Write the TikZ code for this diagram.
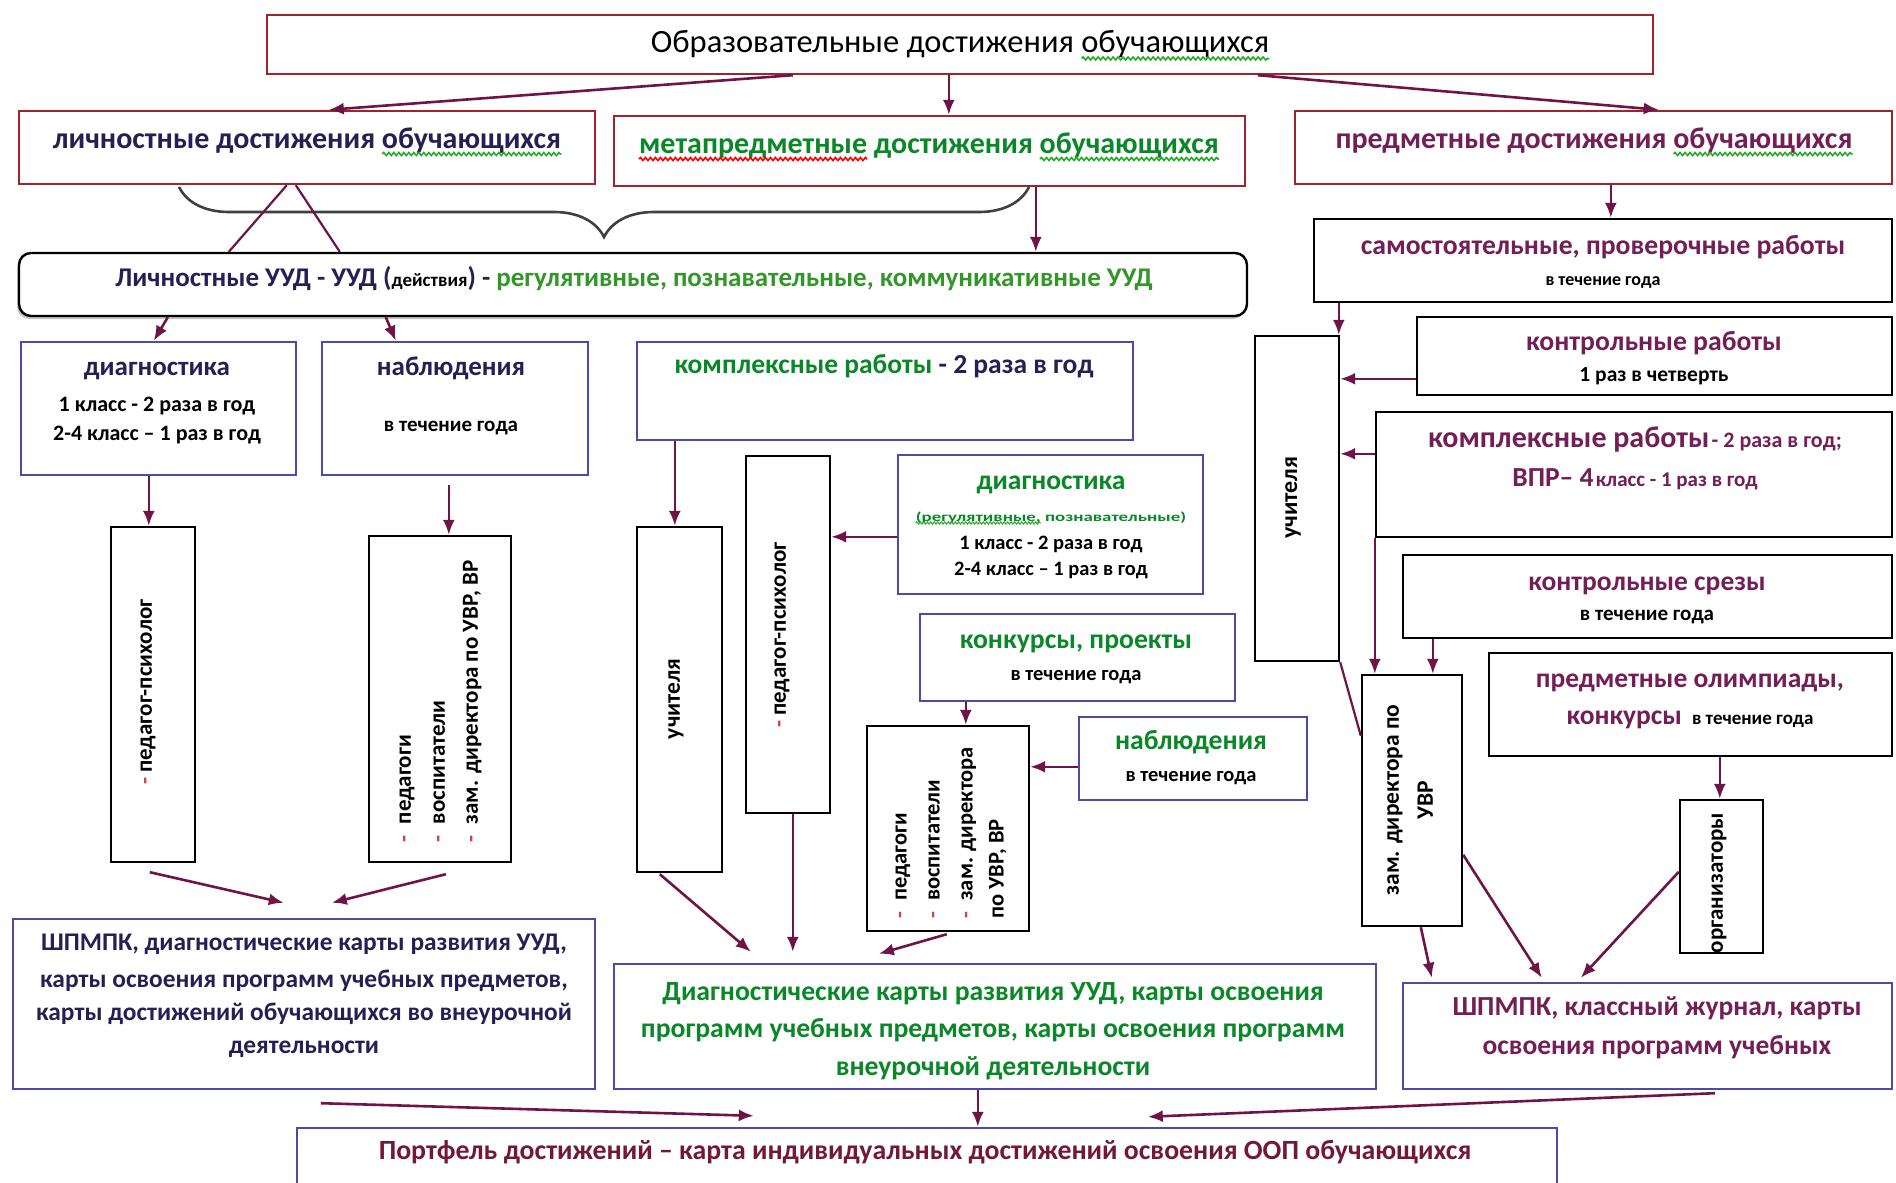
\documentclass[tikz,border=0pt]{standalone}
\usepackage{fontspec}
\usepackage{graphicx}
\setmainfont{Carlito}
\usetikzlibrary{fit,arrows.meta,decorations.pathreplacing,decorations.pathmorphing,shadows}
\definecolor{bred}{RGB}{160,35,45}
\definecolor{bblue}{RGB}{75,75,170}
\definecolor{arrc}{RGB}{110,20,70}
\definecolor{tnavy}{RGB}{40,30,85}
\definecolor{tgreen}{RGB}{10,135,40}
\definecolor{tlgreen}{RGB}{50,150,40}
\definecolor{tplum}{RGB}{115,30,85}
\definecolor{tdred}{RGB}{115,25,55}
\definecolor{dash}{RGB}{200,70,80}
\definecolor{sqgc}{RGB}{40,170,40}
\newcommand\fs[1]{\fontsize{#1}{#1}\selectfont}
\newlength\wTtl
\newlength\wObu
\newlength\wMeta
\newlength\wReg
\begin{document}
\settowidth\wTtl{\fs{32.5}обучающихся}%
\settowidth\wObu{\fs{30}\bfseries обучающихся}%
\settowidth\wMeta{\fs{30}\bfseries метапредметные}%
\settowidth\wReg{\fs{13}\bfseries\scalebox{1.45}[1]{(регулятивные,}}%
\begin{tikzpicture}[x=1pt,y=-1pt,
  bx/.style={draw, line width=2.4pt, inner sep=0pt},
  redbx/.style={bx, draw=bred},
  bluebx/.style={bx, draw=bblue},
  blkbx/.style={bx, draw=black},
  tx/.style={inner sep=0pt, anchor=base},
  arr/.style={draw=arrc, line width=2.6pt, -{Latex[length=15pt,width=12pt]}},
  ln/.style={draw=arrc, line width=2.2pt},
  sqg/.style={draw=sqgc, line width=1.6pt, decorate, decoration={snake, amplitude=1.5pt, segment length=5pt}},
  sqr/.style={draw=red, line width=1.6pt, decorate, decoration={snake, amplitude=1.5pt, segment length=5pt}}]
\fill[white] (0,0) rectangle (1896,1183);
\useasboundingbox (0,0) rectangle (1896,1183);
\begin{scope}
\clip (0,0) rectangle (1896,1183);
% boxes
\node[redbx, fit={(267,15) (1653,74)}] (ttlbox) {};
\node[redbx, fit={(19,111) (595,184)}] (lich) {};
\node[redbx, fit={(614,116) (1245,186)}] (meta) {};
\node[redbx, fit={(1295,111) (1892,184)}] (pred) {};
\node[blkbx, fill=white, rounded corners=12pt, drop shadow={shadow xshift=-2pt, shadow yshift=-3pt, fill=black!45}, fit={(19,253) (1247,316)}] (uud) {};
\node[bluebx, fit={(21,342) (296,475)}] (d1) {};
\node[bluebx, fit={(322,342) (588,475)}] (n1) {};
\node[blkbx, fit={(111,527) (195,862)}] (pp1) {};
\node[blkbx, fit={(369,536) (511,862)}] (ped1) {};
\node[bluebx, fit={(13,919) (595,1089)}] (sh1) {};
\node[bluebx, fit={(637,342) (1133,440)}] (kompl) {};
\node[blkbx, fit={(637,527) (722,872)}] (u1) {};
\node[blkbx, fit={(746,456) (830,813)}] (pp2) {};
\node[bluebx, fit={(898,455) (1203,594)}] (d2) {};
\node[bluebx, fit={(920,614) (1235,701)}] (konk) {};
\node[blkbx, fit={(867,726) (1029,931)}] (ped2) {};
\node[bluebx, fit={(1079,717) (1307,800)}] (n2) {};
\node[bluebx, fit={(614,964) (1376,1089)}] (dk) {};
\node[blkbx, fit={(1314,219) (1892,302)}] (sam) {};
\node[blkbx, fit={(1255,336) (1339,661)}] (u2) {};
\node[blkbx, fit={(1417,317) (1892,395)}] (kr) {};
\node[blkbx, fit={(1376,412) (1892,537)}] (k2) {};
\node[blkbx, fit={(1403,555) (1892,638)}] (sr) {};
\node[blkbx, fit={(1489,653) (1892,756)}] (ol) {};
\node[blkbx, fit={(1362,675) (1462,926)}] (zd) {};
\node[blkbx, fit={(1680,800) (1763,953)}] (org) {};
\node[bluebx, fit={(1403,983) (1892,1089)}] (sh2) {};
\node[bluebx, fit={(297,1128) (1557,1210)}] (port) {};
% brace
\draw[line width=2.6pt, draw=black!75, decorate, decoration={brace, amplitude=50pt}] (1029,187) -- (179,187);
% texts
\node[tx, font=\fs{32.5}, text=black] (ttl) at (960,52.5) {Образовательные достижения обучающихся};
\node[tx, font=\fs{30}\bfseries, text=tnavy] (tlich) at (307,148) {личностные достижения обучающихся};
\node[tx, font=\fs{30}\bfseries, text=tgreen] (tmeta) at (929,153) {метапредметные достижения обучающихся};
\node[tx, font=\fs{30}\bfseries, text=tplum] (tpred) at (1594,148) {предметные достижения обучающихся};
\node[tx, font=\fs{27}\bfseries] (tuud) at (634,286) {\textcolor{tnavy}{Личностные УУД - УУД (}{\fs{19}действия}\textcolor{tnavy}{) -} \textcolor{tlgreen}{регулятивные, познавательные, коммуникативные УУД}};
\node[tx, font=\fs{27}\bfseries, text=tnavy] (d1a) at (157,375) {диагностика};
\node[tx, font=\fs{22}\bfseries] (d1b) at (157,411.7) {1 класс - 2 раза в год};
\node[tx, font=\fs{22}\bfseries] (d1c) at (157,440.7) {2-4 класс – 1 раз в год};
\node[tx, font=\fs{27}\bfseries, text=tnavy] (n1a) at (451,375) {наблюдения};
\node[tx, font=\fs{21}\bfseries] (n1b) at (451,431.5) {в течение года};
\node[tx, font=\fs{27.5}\bfseries] (tkompl) at (884,373) {\textcolor{tgreen}{комплексные работы} \textcolor{tnavy}{- 2 раза в год}};
\node[tx, font=\fs{27.5}\bfseries, text=tgreen] (d2a) at (1051,489) {диагностика};
\node[tx, font=\fs{13}\bfseries, text=tgreen] (d2b) at (1051,521) {\scalebox{1.45}[1]{(регулятивные, познавательные)}};
\node[tx, font=\fs{20.5}\bfseries] (d2c) at (1051,549.3) {1 класс - 2 раза в год};
\node[tx, font=\fs{20.5}\bfseries] (d2d) at (1051,575.3) {2-4 класс – 1 раз в год};
\node[tx, font=\fs{27.7}\bfseries, text=tgreen] (konka) at (1076,648.2) {конкурсы, проекты};
\node[tx, font=\fs{20.5}\bfseries] (konkb) at (1076,680.3) {в течение года};
\node[tx, font=\fs{27.7}\bfseries, text=tgreen] (n2a) at (1191,749.2) {наблюдения};
\node[tx, font=\fs{20.5}\bfseries] (n2b) at (1191,781.3) {в течение года};
\node[tx, font=\fs{25.4}\bfseries, text=tnavy] (sh1a) at (304,950.6) {ШПМПК, диагностические карты развития УУД,};
\node[tx, font=\fs{25.4}\bfseries, text=tnavy] (sh1b) at (304,987.6) {карты освоения программ учебных предметов,};
\node[tx, font=\fs{25.4}\bfseries, text=tnavy] (sh1c) at (304,1020.6) {карты достижений обучающихся во внеурочной};
\node[tx, font=\fs{25.4}\bfseries, text=tnavy] (sh1d) at (304,1053.6) {деятельности};
\node[tx, font=\fs{27.7}\bfseries, text=tgreen] (dka) at (993,1000.2) {Диагностические карты развития УУД, карты освоения};
\node[tx, font=\fs{27.7}\bfseries, text=tgreen] (dkb) at (993,1037.2) {программ учебных предметов, карты освоения программ};
\node[tx, font=\fs{27.7}\bfseries, text=tgreen] (dkc) at (993,1075.2) {внеурочной деятельности};
\node[tx, font=\fs{27.7}\bfseries, text=tplum] (sama) at (1603,254.2) {самостоятельные, проверочные работы};
\node[tx, font=\fs{18}\bfseries] (samb) at (1603,285.7) {в течение года};
\node[tx, font=\fs{27.7}\bfseries, text=tplum] (kra) at (1654,350.2) {контрольные работы};
\node[tx, font=\fs{21.5}\bfseries] (krb) at (1654,381.6) {1 раз в четверть};
\node[tx, font=\bfseries, text=tplum] (k2a) at (1635,447.5) {{\fs{30}комплексные работы} {\fs{22}- 2 раза в год;}};
\node[tx, font=\bfseries, text=tplum] (k2b) at (1635,486) {{\fs{27.5}ВПР– 4} {\fs{21}класс - 1 раз в год}};
\node[tx, font=\fs{27.5}\bfseries, text=tplum] (sra) at (1647,590.2) {контрольные срезы};
\node[tx, font=\fs{21}\bfseries] (srb) at (1647,620.5) {в течение года};
\node[tx, font=\fs{27.5}\bfseries, text=tplum] (ola) at (1690,687.2) {предметные олимпиады,};
\node[tx, font=\bfseries, text=tplum] (olb) at (1690,724.5) {{\fs{27.5}конкурсы}\quad{\fs{19}\color{black}в течение года}};
\node[tx, font=\fs{27.5}\bfseries, text=tplum] (sh2a) at (1657,1015.2) {ШПМПК, классный журнал, карты};
\node[tx, font=\fs{27.5}\bfseries, text=tplum] (sh2b) at (1657,1054.2) {освоения программ учебных};
\node[tx, font=\fs{27.8}\bfseries, text=tdred] (tport) at (925,1159.2) {Портфель достижений – карта индивидуальных достижений освоения ООП обучающихся};
% rotated texts
\node[tx, rotate=90, font=\fs{23}\bfseries] (tpp1) at (151.75,692) {\textcolor{dash}{-} педагог-психолог};
\node[tx, rotate=90, anchor=base west, font=\fs{23}\bfseries] (tped1a) at (410.75,843) {\textcolor{dash}{-}\enspace педагоги};
\node[tx, rotate=90, anchor=base west, font=\fs{23}\bfseries] (tped1b) at (444.75,843) {\textcolor{dash}{-}\enspace воспитатели};
\node[tx, rotate=90, anchor=base west, font=\fs{23}\bfseries] (tped1c) at (477.75,843) {\textcolor{dash}{-}\enspace зам. директора по УВР, ВР};
\node[tx, rotate=90, font=\fs{23.5}\bfseries] (tu1) at (679.9,699) {учителя};
\node[tx, rotate=90, font=\fs{23}\bfseries] (tpp2) at (785.75,635) {\textcolor{dash}{-} педагог-психолог};
\node[tx, rotate=90, anchor=base west, font=\fs{22.5}\bfseries] (tped2a) at (906.6,919) {\textcolor{dash}{-}\enspace педагоги};
\node[tx, rotate=90, anchor=base west, font=\fs{22.5}\bfseries] (tped2b) at (939.6,919) {\textcolor{dash}{-}\enspace воспитатели};
\node[tx, rotate=90, anchor=base west, font=\fs{22.5}\bfseries] (tped2c) at (972.6,919) {\textcolor{dash}{-}\enspace зам. директора};
\node[tx, rotate=90, anchor=base west, font=\fs{22.5}\bfseries] (tped2d) at (1003.6,919) {по УВР, ВР};
\node[tx, rotate=90, font=\fs{24}\bfseries] (tu2) at (1297,498) {учителя};
\node[tx, rotate=90, font=\fs{23.5}\bfseries] (tzd1) at (1398.9,800) {зам. директора по};
\node[tx, rotate=90, font=\fs{23.5}\bfseries] (tzd2) at (1432.9,800) {УВР};
\node[tx, rotate=90, font=\fs{23}\bfseries] (torg) at (1722.75,883) {организаторы};
% spelling squiggles
\draw[sqg] ([xshift=-\wTtl,yshift=-6pt]ttl.base east) -- ([yshift=-6pt]ttl.base east);
\draw[sqg] ([xshift=-\wObu,yshift=-6pt]tlich.base east) -- ([yshift=-6pt]tlich.base east);
\draw[sqg] ([xshift=-\wObu,yshift=-6pt]tmeta.base east) -- ([yshift=-6pt]tmeta.base east);
\draw[sqg] ([xshift=-\wObu,yshift=-6pt]tpred.base east) -- ([yshift=-6pt]tpred.base east);
\draw[sqr] ([yshift=-6pt]tmeta.base west) -- ([xshift=\wMeta,yshift=-6pt]tmeta.base west);
\draw[sqg, line width=1.1pt, decoration={snake, amplitude=1pt, segment length=3.5pt}] ([yshift=-2pt]d2b.base west) -- ([xshift=\wReg,yshift=-2pt]d2b.base west);
% connectors
\draw[arr] ([xshift=527pt]ttlbox.south west) -- ([xshift=311pt]lich.north west);
\draw[arr] ([xshift=683pt]ttlbox.south west) -- ([xshift=336pt]meta.north west);
\draw[arr] ([xshift=992pt]ttlbox.south west) -- ([xshift=365pt]pred.north west);
\draw[arr] ([xshift=423pt]meta.south west) -- ([xshift=1018pt]uud.north west);
\draw[ln] ([xshift=269pt]lich.south west) -- ([xshift=211pt]uud.north west);
\draw[ln] ([xshift=278pt]lich.south west) -- ([xshift=322pt]uud.north west);
\draw[arr] ([xshift=150pt]uud.south west) -- ([xshift=134pt]d1.north west);
\draw[arr] ([xshift=368pt]uud.south west) -- ([xshift=75pt]n1.north west);
\draw[arr] ([xshift=129pt]d1.south west) -- ([xshift=39pt]pp1.north west);
\draw[arr] ([xshift=128pt,yshift=-9pt]n1.south west) -- ([xshift=81pt]ped1.north west);
\draw[arr] ([xshift=40pt,yshift=-9pt]pp1.south west) -- ([xshift=272pt,yshift=15pt]sh1.north west);
\draw[arr] ([xshift=78pt,yshift=-11pt]ped1.south west) -- ([xshift=320pt,yshift=15pt]sh1.north west);
\draw[arr] ([xshift=39pt]kompl.south west) -- ([xshift=39pt]u1.north west);
\draw[arr] ([yshift=-83pt]d2.north west) -- ([yshift=-82pt]pp2.north east);
\draw[arr] ([xshift=47pt]konk.south west) -- ([xshift=100pt]ped2.north west);
\draw[arr] ([yshift=-51pt]n2.north west) -- ([yshift=-42pt]ped2.north east);
\draw[arr] ([xshift=24pt,yshift=-1pt]u1.south west) -- ([xshift=138pt,yshift=11pt]dk.north west);
\draw[arr] ([xshift=48pt]pp2.south west) -- ([xshift=180pt,yshift=11pt]dk.north west);
\draw[arr] ([xshift=81pt,yshift=-2pt]ped2.south west) -- ([xshift=266pt,yshift=9pt]dk.north west);
\draw[arr] ([xshift=317pt]pred.south west) -- ([xshift=298pt]sam.north west);
\draw[arr] ([xshift=26pt]sam.south west) -- ([xshift=85pt]u2.north west);
\draw[arr] ([yshift=-63pt]kr.north west) -- ([yshift=-44pt]u2.north east);
\draw[arr] ([yshift=-43pt]k2.north west) -- ([yshift=-119pt]u2.north east);
\draw[arr] (k2.south west) -- ([xshift=14pt]zd.north west);
\draw[arr] ([xshift=31pt]sr.south west) -- ([xshift=72pt]zd.north west);
\draw[arr] ([xshift=232pt]ol.south west) -- ([xshift=41pt]org.north west);
\draw[ln] (u2.south east) -- ([yshift=-62pt]zd.north west);
\draw[arr] ([xshift=60pt]zd.south west) -- ([xshift=30pt,yshift=4pt]sh2.north west);
\draw[arr] ([yshift=-181pt]zd.north east) -- ([xshift=140pt,yshift=4pt]sh2.north west);
\draw[arr] ([yshift=-73pt]org.north west) -- ([xshift=179pt,yshift=4pt]sh2.north west);
\draw[arr] ([xshift=309pt,yshift=-13pt]sh1.south west) -- ([xshift=458pt,yshift=11pt]port.north west);
\draw[arr] ([xshift=365pt]dk.south west) -- ([xshift=682pt]port.north west);
\draw[arr] ([xshift=313pt,yshift=-3pt]sh2.south west) -- ([xshift=852pt,yshift=10pt]port.north west);
\end{scope}
\end{tikzpicture}
\end{document}
